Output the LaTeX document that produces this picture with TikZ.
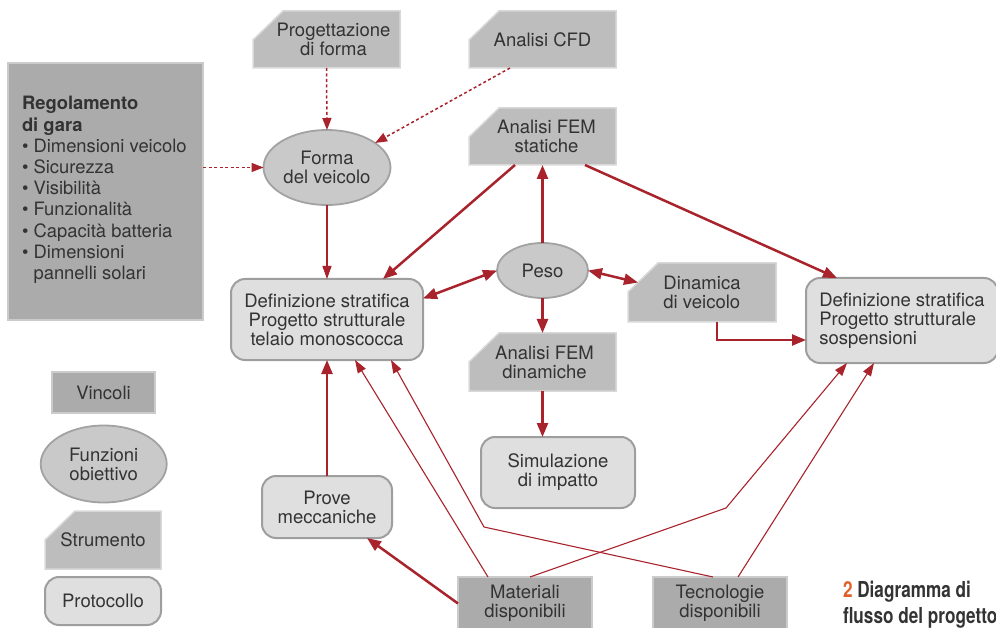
\documentclass[tikz,border=0pt]{standalone}
\usepackage{fontspec}
\setmainfont{TeX Gyre Heros}
\newfontfamily\capfont[FakeStretch=0.78]{TeX Gyre Heros}
\usetikzlibrary{arrows.meta,calc,shapes.geometric}
\definecolor{arr}{HTML}{A8232B}
\definecolor{txt}{HTML}{333333}
\definecolor{vincfill}{HTML}{ABABAB}
\definecolor{vincdraw}{HTML}{CBCBCB}
\definecolor{toolfill}{HTML}{BDBDBD}
\definecolor{tooldraw}{HTML}{D8D8D8}
\definecolor{ellfill}{HTML}{C9C9C9}
\definecolor{elldraw}{HTML}{A2A2A2}
\definecolor{protfill}{HTML}{DFDFDF}
\definecolor{protdraw}{HTML}{9E9E9E}
\definecolor{orange2}{HTML}{E0602A}
\pgfdeclarelayer{background}
\pgfsetlayers{background,main}
\begin{document}
\begin{tikzpicture}[x=1pt,y=-1pt,
  every node/.style={font=\fontsize{18.5}{19}\selectfont, text=txt, align=center, inner sep=0pt, outer sep=0pt},
  vinc/.style={rectangle, fill=vincfill, draw=vincdraw, line width=1.5pt},
  tool/.style={rectangle},
  ell/.style={ellipse, fill=ellfill, draw=elldraw, line width=1.8pt},
  prot/.style={rectangle, rounded corners=14pt, fill=protfill, draw=protdraw, line width=2pt},
  toolshape/.style={fill=toolfill, draw=tooldraw, line width=1.5pt},
  conn/.style={draw=arr, line width=2.5pt, -{Triangle[length=14pt,width=11pt]}},
  conn2/.style={draw=arr, line width=2.5pt, {Triangle[length=14pt,width=11pt]}-{Triangle[length=14pt,width=11pt]}},
  link/.style={draw=arr, line width=1.1pt, -{Triangle[length=13pt,width=9pt]}},
  dotarrow/.style={draw=arr, line width=1.5pt, dash pattern=on 3pt off 2.5pt, -{Triangle[length=12pt,width=9pt]}}
]
\useasboundingbox (0,0) rectangle (996,628);

% constraints
\node[vinc, minimum width=195pt, minimum height=257pt] (reg) at (105.5,191.5) {};
\node[anchor=north west, align=left, font=\fontsize{18.4}{21.2}\selectfont] (regtxt) at (22,96.5)
  {\textbf{Regolamento}\\\textbf{di gara}\\\textbullet\ Dimensioni veicolo\\\textbullet\ Sicurezza\\\textbullet\ Visibilità\\\textbullet\ Funzionalità\\\textbullet\ Capacità batteria\\\textbullet\ Dimensioni\\\phantom{\textbullet\ }pannelli solari};
\node[vinc, minimum width=134pt, minimum height=53pt] (mat) at (525,603.5) {Materiali\\disponibili};
\node[vinc, minimum width=134pt, minimum height=53pt] (tec) at (720,603.5) {Tecnologie\\disponibili};

% tools
\node[tool, minimum width=147pt, minimum height=57pt] (prog) at (326.5,39.5) {\hspace*{14pt}Progettazione\\\hspace*{14pt}di forma};
\node[tool, minimum width=147pt, minimum height=57pt] (cfd) at (542.5,39.5) {Analisi CFD};
\node[tool, minimum width=147pt, minimum height=57pt] (fems) at (542.5,136.5) {\hspace*{8pt}Analisi FEM\\\hspace*{8pt}statiche};
\node[tool, minimum width=147pt, minimum height=58pt] (femd) at (542.5,362) {\hspace*{4pt}Analisi FEM\\\hspace*{4pt}dinamiche};
\node[tool, minimum width=148pt, minimum height=59pt, align=left] (dyn) at (702,292.5) {Dinamica\\di veicolo};

% objective functions
\node[ell, minimum width=127pt, minimum height=75pt] (forma) at (327,167.5) {Forma\\del veicolo};
\node[ell, minimum width=91pt, minimum height=55pt] (peso) at (542.5,270.5) {Peso};

% protocols
\node[prot, minimum width=192pt, minimum height=81pt] (telaio) at (327,319.5) {Definizione stratifica\\Progetto strutturale\\telaio monoscocca};
\node[prot, minimum width=192pt, minimum height=85pt, align=left] (sosp) at (902,320.5) {Definizione stratifica\\Progetto strutturale\\sospensioni};
\node[prot, minimum width=154pt, minimum height=71pt] (sim) at (558,472.5) {Simulazione\\di impatto};
\node[prot, minimum width=130pt, minimum height=62pt] (prove) at (327,507) {Prove\\meccaniche};

% legend
\node[vinc, minimum width=103pt, minimum height=41pt] (lvinc) at (103.5,392.5) {Vincoli};
\node[ell, minimum width=126pt, minimum height=77pt] (lfunz) at (103.7,464) {Funzioni\\obiettivo};
\node[tool, minimum width=116pt, minimum height=58pt] (strum) at (103,540) {Strumento};
\node[prot, minimum width=116pt, minimum height=48pt] (lprot) at (103,601) {Protocollo};

% caption
\node[anchor=north west, align=left, font=\capfont\bfseries\fontsize{22}{26}\selectfont] (cap) at (843,581)
  {\textcolor{orange2}{2} Diagramma di\\flusso del progetto};

\begin{pgfonlayer}{background}
\foreach \n in {prog,cfd,fems,femd,dyn,strum}{
  \filldraw[toolshape] (\n.south west) -- (\n.south east) -- (\n.north east) -- ($(\n.north west)+(30,0)$) -- ($(\n.north west)+(0,29)$) -- cycle;
}
\end{pgfonlayer}

% connectors
\draw[dotarrow] (prog.south) -- (forma.north);
\draw[dotarrow] ($(cfd.south west)+(41,0)$) -- (forma.27);
\draw[dotarrow] (reg.east |- forma.west) -- (forma.west);
\draw[link] (forma.south) -- (telaio.north);
\draw[conn] ($(fems.south west)+(46,0)$) -- ($(telaio.north east)+(-40,0)$);
\draw[conn] (peso.north) -- (fems.south);
\draw[conn] ($(fems.south east)+(-31,0)$) -- ($(sosp.north west)+(31,0)$);
\draw[conn2] (peso.west) -- ($(telaio.east)+(0,-21)$);
\draw[conn2] (peso.east) -- ($(dyn.west)+(10,-10)$);
\draw[conn] (peso.south) -- (femd.north);
\draw[conn] (femd.south) -- (femd.south |- sim.north);
\draw[conn] ($(dyn.south)+(15,0)$) |- ($(sosp.west)+(0,19.5)$);
\draw[conn] (prove.north) -- (telaio.south);
\draw[conn] (mat.west) -- ($(prove.south east)+(-25,0)$);
\draw[link] ($(mat.north west)+(30,0)$) -- ($(telaio.south)+(28,0)$);
\coordinate (k1) at (484,527);
\coordinate (k2) at (726,508);
\draw[link] ($(tec.north west)+(60,0)$) -- (k1) -- ($(telaio.south)+(64,0)$);
\draw[link] ($(mat.north)+(5,0)$) -- (k2) -- ($(sosp.south west)+(41,0)$);
\draw[link] ($(tec.north)+(18,0)$) -- ($(sosp.south west)+(68,0)$);
\end{tikzpicture}
\end{document}
